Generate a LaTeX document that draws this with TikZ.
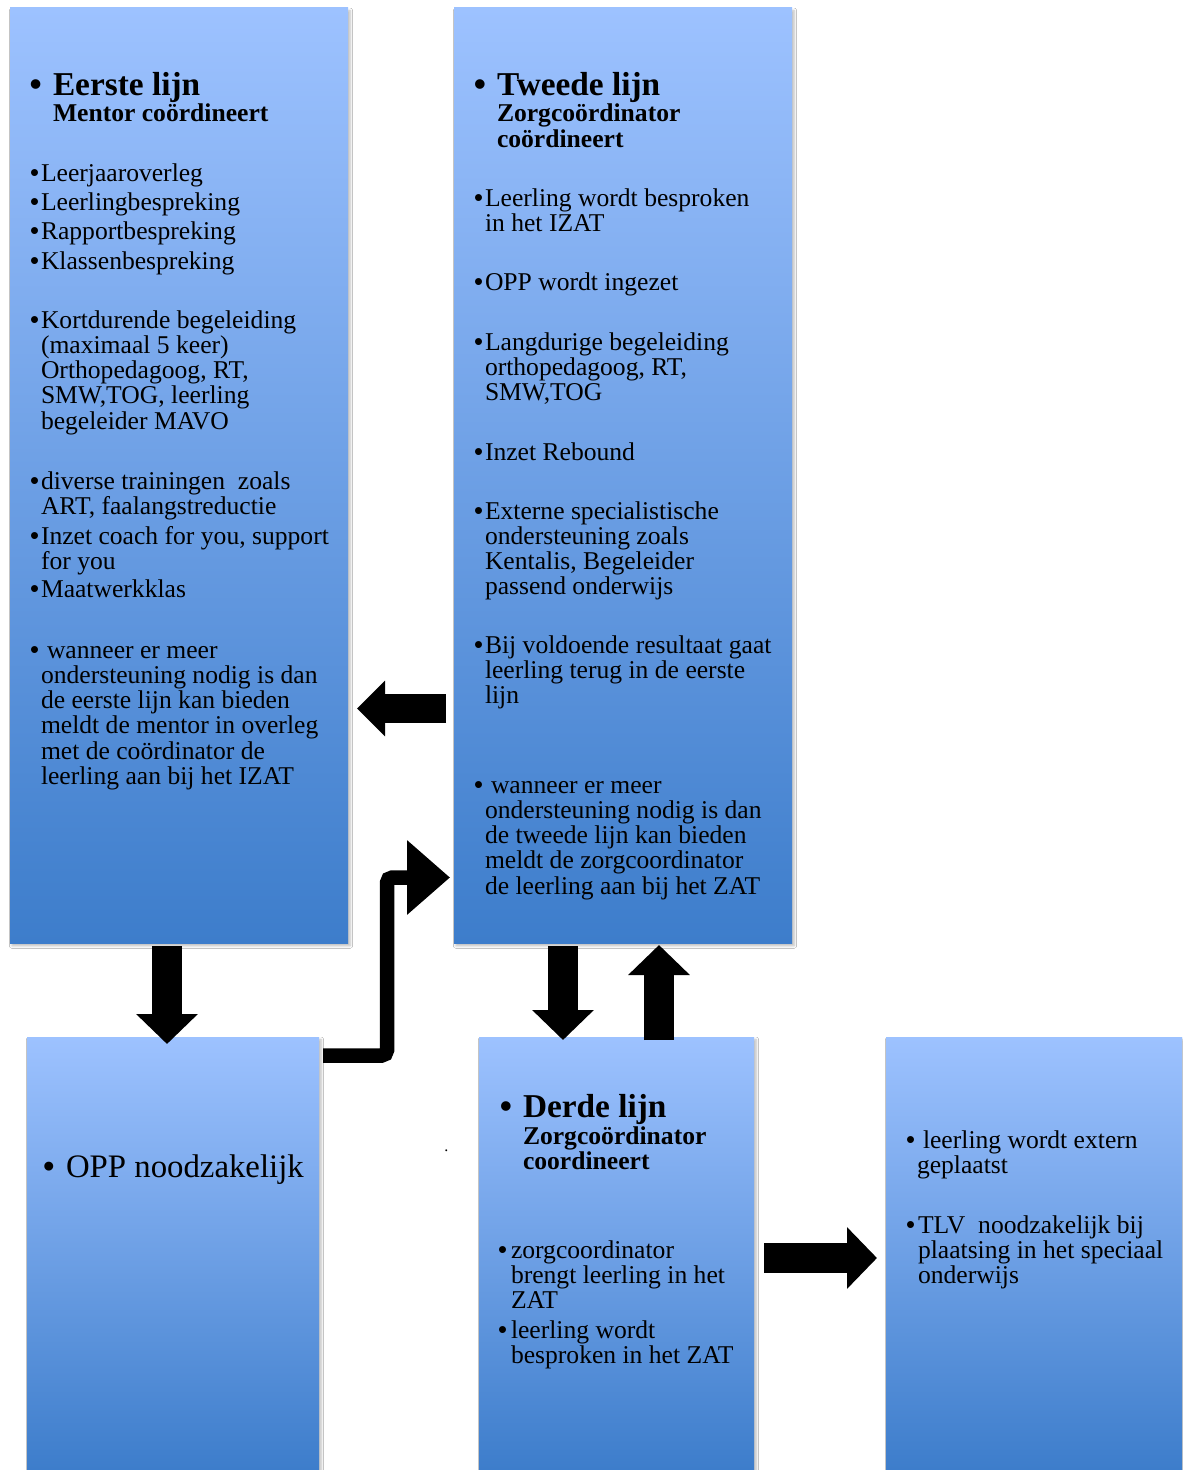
\documentclass[tikz,border=0pt]{standalone}
\usepackage{fontspec}
\setmainfont{Liberation Serif}
\newfontfamily\bulfont{Liberation Sans}
\usetikzlibrary{arrows.meta,shadows.blur,calc}
\definecolor{boxtop}{RGB}{157,194,255}
\definecolor{boxbot}{RGB}{61,125,203}
\newcommand\ls[1]{\begin{tabular}[t]{@{}l@{}}#1\end{tabular}}
\newcommand\bul[1]{\llap{{\bulfont\textbullet}\hspace{#1}}}
\tikzset{
  box/.style={rectangle, inner sep=0pt, outer sep=0pt, draw=none,
    top color=boxtop, bottom color=boxbot,
    blur shadow={shadow xshift=1.5pt, shadow yshift=-2pt, shadow blur radius=2pt, shadow opacity=28}},
  txt/.style={anchor=base west, inner sep=0pt, outer sep=0pt, font=\fontsize{19.2}{18.9}\selectfont},
  ttl/.style={anchor=base west, inner sep=0pt, outer sep=0pt, font=\bfseries\fontsize{25}{25}\selectfont},
  sub/.style={anchor=base west, inner sep=0pt, outer sep=0pt, font=\bfseries\fontsize{19.2}{18.9}\selectfont},
  big/.style={anchor=base west, inner sep=0pt, outer sep=0pt, font=\fontsize{24.6}{24}\selectfont},
  blk/.style={draw=black, line width=30*0.75pt, -{Triangle[width=60*0.75pt,length=30*0.75pt]}},
  blkl/.style={draw=black, line width=29*0.75pt, -{Triangle[width=54*0.75pt,length=28*0.75pt]}},
  bent/.style={draw=black, line width=14.5*0.75pt, rounded corners=4pt, -{Triangle[width=72*0.75pt,length=43*0.75pt]}}
}
\begin{document}
\begin{tikzpicture}[x=0.75pt,y=-0.75pt]
\useasboundingbox (0,0) rectangle (1182,1470);
\fill[white] (0,0) rectangle (1182,1470);

% boxes
\node[box, minimum width=338*0.75pt, minimum height=935*0.75pt, anchor=north west] (b1) at (10,8) {};
\node[box, minimum width=338*0.75pt, minimum height=935*0.75pt, anchor=north west] (b2) at (454,8) {};
\node[box, minimum width=292*0.75pt, minimum height=433*0.75pt, anchor=north west] (opp) at (27,1037) {};
\node[box, minimum width=275*0.75pt, minimum height=433*0.75pt, anchor=north west] (b3) at (479,1037) {};
\node[box, minimum width=296*0.75pt, minimum height=433*0.75pt, anchor=north west] (b4) at (886,1037) {};

% box 1 text
\node[ttl] (t1) at (53,95) {\bul{8.5pt}Eerste lijn};
\node[sub] (s1) at (53,122) {Mentor coördineert};
\node[txt] (e1) at (41,181) {\ls{\bul{1.5pt}Leerjaaroverleg\\[3.1pt]\bul{1.5pt}Leerlingbespreking\\[3.1pt]\bul{1.5pt}Rapportbespreking\\[3.1pt]\bul{1.5pt}Klassenbespreking}};
\node[txt] (e5) at (41,328) {\ls{\bul{1.5pt}Kortdurende begeleiding\\(maximaal 5 keer)\\Orthopedagoog, RT,\\SMW,TOG, leerling\\begeleider MAVO}};
\node[txt] (e6) at (41,489) {\ls{\bul{1.5pt}diverse trainingen\ \ zoals\\ART, faalangstreductie}};
\node[txt] (e7) at (41,544) {\ls{\bul{1.5pt}Inzet coach for you, support\\for you}};
\node[txt] (e8) at (41,597) {\bul{1.5pt}Maatwerkklas};
\node[txt] (e9) at (41,658) {\ls{\bul{1.5pt}\hspace{4.5pt}wanneer er meer\\ondersteuning nodig is dan\\de eerste lijn kan bieden\\meldt de mentor in overleg\\met de coördinator de\\leerling aan bij het IZAT}};

% box 2 text
\node[ttl] (t2) at (497,95) {\bul{8.5pt}Tweede lijn};
\node[sub] (s2) at (497,122) {\ls{Zorgcoördinator\\coördineert}};
\node[txt] (z1) at (485,206) {\ls{\bul{1.5pt}Leerling wordt besproken\\in het IZAT}};
\node[txt] (z2) at (485,290) {\bul{1.5pt}OPP wordt ingezet};
\node[txt] (z3) at (485,350) {\ls{\bul{1.5pt}Langdurige begeleiding\\orthopedagoog, RT,\\SMW,TOG}};
\node[txt] (z4) at (485,460) {\bul{1.5pt}Inzet Rebound};
\node[txt] (z5) at (485,519) {\ls{\bul{1.5pt}Externe specialistische\\ondersteuning zoals\\Kentalis, Begeleider\\passend onderwijs}};
\node[txt] (z6) at (485,653) {\ls{\bul{1.5pt}Bij voldoende resultaat gaat\\leerling terug in de eerste\\lijn}};
\node[txt] (z7) at (485,793) {\ls{\bul{1.5pt}\hspace{4.5pt}wanneer er meer\\ondersteuning nodig is dan\\de tweede lijn kan bieden\\meldt de zorgcoordinator\\de leerling aan bij het ZAT}};

% OPP box
\node[big] (o1) at (66,1177) {\bul{8.5pt}OPP noodzakelijk};
\node[anchor=base west, inner sep=0pt, font=\fontsize{12}{12}\selectfont] (dot) at (444,1151) {.};

% derde lijn
\node[ttl] (t3) at (523,1117) {\bul{8.5pt}Derde lijn};
\node[sub] (s3) at (523,1144) {\ls{Zorgcoördinator\\coordineert}};
\node[txt] (d1) at (511,1258) {\ls{\bul{3pt}zorgcoordinator\\brengt leerling in het\\ZAT}};
\node[txt] (d2) at (511,1338) {\ls{\bul{3pt}leerling wordt\\besproken in het ZAT}};

% right box
\node[txt] (r1) at (917,1148) {\ls{\bul{1.5pt}\hspace{4.5pt}leerling wordt extern\\geplaatst}};
\node[txt] (r2) at (918,1233) {\ls{\bul{2.2pt}TLV\ \ noodzakelijk bij\\plaatsing in het speciaal\\onderwijs}};

% arrows
\draw[blkl] ($(b2.north west)+(-8,700.5)$) -- ($(b1.north east)+(9,700.5)$);
\draw[blk] ($(b1.south west)+(157,3)$) -- ($(opp.north west)+(140,7)$);
\draw[blk] ($(b2.south west)+(109,3)$) -- ($(b3.north west)+(84,3)$);
\draw[blk] ($(b3.north west)+(180,3)$) -- ($(b2.south west)+(205,2)$);
\draw[blk] ($(b3.north east)+(10,221)$) -- ($(b4.north west)+(-9,221)$);
\draw[bent] ($(opp.north east)+(4,18.5)$) -- ++(64,0) |- ($(b2.north west)+(-4,869.5)$);
\end{tikzpicture}
\end{document}
